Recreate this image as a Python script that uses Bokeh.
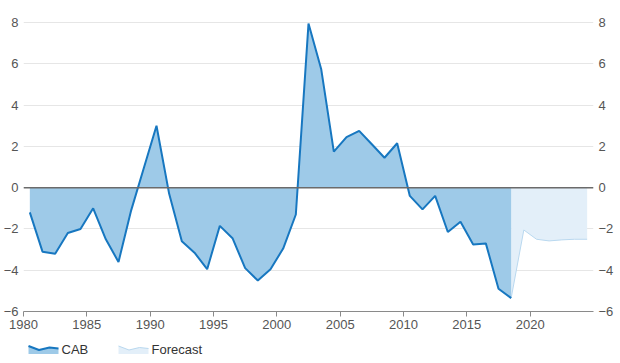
from bokeh.plotting import figure
from bokeh.layouts import column
from bokeh.models import Span, LinearAxis, FixedTicker, Range1d, ColumnDataSource
from bokeh.core.properties import value
from bokeh.embed import file_html
from bokeh.resources import INLINE

# ---- data ----
cab_years = list(range(1980, 2019))
cab_values = [-1.2, -3.1, -3.2, -2.2, -2.0, -1.0, -2.5, -3.6, -1.1, 0.95,
              3.0, -0.3, -2.6, -3.15, -3.95, -1.85, -2.45, -3.9, -4.5, -3.95,
              -2.95, -1.3, 7.95, 5.75, 1.75, 2.45, 2.75, 2.1, 1.45, 2.15,
              -0.4, -1.05, -0.4, -2.15, -1.65, -2.75, -2.7, -4.9, -5.35]
fc_years = list(range(2018, 2025))
fc_values = [-5.35, -2.05, -2.5, -2.58, -2.53, -2.5, -2.5]
x_ticks = [1980, 1985, 1990, 1995, 2000, 2005, 2010, 2015, 2020]
y_ticks = [-6, -4, -2, 0, 2, 4, 6, 8]
series_names = ["CAB", "Forecast"]

cab_src = ColumnDataSource(dict(x=[y + 0.5 for y in cab_years], y=cab_values,
                                z=[0] * len(cab_years)))
fc_src = ColumnDataSource(dict(x=[y + 0.5 for y in fc_years], y=fc_values,
                               z=[0] * len(fc_years)))

FONT = "Liberation Sans"
CAB_FILL, CAB_LINE = "#9ecae8", "#1777c0"
FC_FILL, FC_LINE = "#e3eff9", "#b9d8ef"

p = figure(frame_width=570, frame_height=290, output_backend="svg", toolbar_location=None,
           x_range=Range1d(1980, 2025), y_range=Range1d(-6, 8.05),
           min_border_left=17, min_border_right=17, min_border_top=21,
           min_border_bottom=24, outline_line_color=None,
           background_fill_color="white", border_fill_color="white",
           y_axis_location=None)

p.varea(x="x", y1="z", y2="y", source=fc_src, fill_color=FC_FILL, fill_alpha=1)
p.line(x="x", y="y", source=fc_src, line_color=FC_LINE, line_width=1)
p.varea(x="x", y1="z", y2="y", source=cab_src, fill_color=CAB_FILL, fill_alpha=1)
p.line(x="x", y="y", source=cab_src, line_color=CAB_LINE, line_width=2)

p.add_layout(Span(location=0, dimension="width", line_color="#6b6b6b", line_width=1.5))

p.xgrid.grid_line_color = None
p.ygrid.grid_line_color = "#e6e6e6"
p.ygrid.ticker = FixedTicker(ticks=y_ticks)

xa = p.xaxis[0]
xa.ticker = FixedTicker(ticks=x_ticks)
xa.axis_line_color = "#8a8a8a"
xa.major_tick_line_color = "#8a8a8a"
xa.major_tick_out = 5
xa.major_tick_in = 0
xa.minor_tick_line_color = None
xa.major_label_standoff = 3
xa.major_label_text_font = FONT
xa.major_label_text_font_size = "13px"
xa.major_label_text_color = "#555555"

for side in ("left", "right"):
    ax = LinearAxis(ticker=FixedTicker(ticks=y_ticks))
    ax.axis_line_color = None
    ax.major_tick_line_color = None
    ax.minor_tick_line_color = None
    ax.major_tick_out = 0
    ax.major_tick_in = 0
    ax.major_label_standoff = 5
    ax.major_label_text_font = FONT
    ax.major_label_text_font_size = "13px"
    ax.major_label_text_color = "#555555"
    p.add_layout(ax, side)

# ---- legend row (pixel coordinates, y downwards; frame aligned with main frame) ----
lg = figure(frame_width=570, frame_height=22, output_backend="svg", toolbar_location=None,
            x_range=Range1d(0, 570), y_range=Range1d(22, 0),
            min_border=0, outline_line_color=None, x_axis_location=None,
            y_axis_location=None, background_fill_color="white",
            border_fill_color="white")
lg.grid.visible = False

icon_rel_x = [0, 0.35, 0.7, 1.0]
icon_rel_y = [0.2, 0.6, 0.35, 0.45]
for x0, name, fill, line, lw in [(5, series_names[0], CAB_FILL, CAB_LINE, 2),
                                  (95, series_names[1], FC_FILL, FC_LINE, 1)]:
    top, h, w = 8.5, 10, 30
    xs = [x0 + w * r for r in icon_rel_x]
    ys = [top + h * r for r in icon_rel_y]
    lg.patch(xs + [x0 + w, x0], ys + [top + h, top + h], fill_color=fill,
             line_color=None)
    lg.line(xs, ys, line_color=line, line_width=lw)
    lg.text(x=[x0 + w + 3], y=[14], text=[name], text_font=value(FONT),
            text_font_size="13px", text_color="#333333",
            text_baseline="middle", text_align="left")

open("out.html", "w").write(file_html(column(p, lg, spacing=0), INLINE))
